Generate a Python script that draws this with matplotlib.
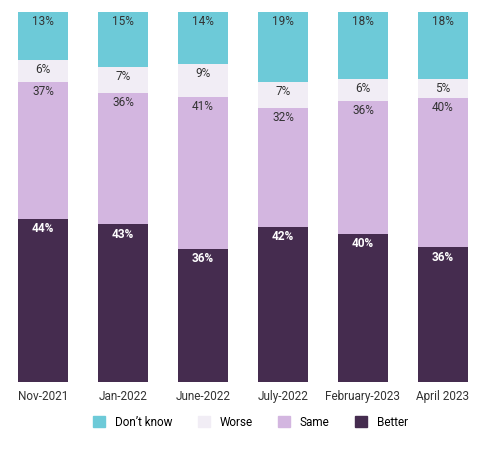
import matplotlib
matplotlib.use("Agg")
import matplotlib.pyplot as plt
from matplotlib.patches import Patch

plt.rcParams['font.family'] = ['Roboto', 'DejaVu Sans']

categories = ["Nov-2021", "Jan-2022", "June-2022", "July-2022", "February-2023", "April 2023"]
better = [44, 43, 36, 42, 40, 36]
same = [37, 36, 41, 32, 36, 40]
worse = [6, 7, 9, 7, 6, 5]
dont_know = [13, 15, 14, 19, 18, 18]

series = [("Better", better, "#452c4f", "white"),
          ("Same", same, "#d3b6e0", "#333333"),
          ("Worse", worse, "#f1edf5", "#333333"),
          ("Don\u2019t know", dont_know, "#6dcad8", "#333333")]

totals = [sum(s[1][i] for s in series) for i in range(len(categories))]

fig = plt.figure(figsize=(5.01, 4.49), dpi=100)
ax = fig.add_axes([3/501, 1-382/449, 480/501, 370/449])
x = range(len(categories))
bottom = [0]*len(categories)
handles = {}
for name, vals, col, tcol in series:
    scaled = [v * 100 / t for v, t in zip(vals, totals)]
    ax.bar(x, scaled, bottom=bottom, width=0.625, color=col)
    for i, v in enumerate(vals):
        top = bottom[i] + scaled[i]
        ax.text(i, top - 2.6, f"{v}%", ha="center", va="center", color=tcol, fontsize=8.5,
                fontweight="bold" if tcol == "white" else "normal")
    bottom = [b + v for b, v in zip(bottom, scaled)]
    handles[name] = Patch(color=col)
ax.set_xlim(-0.5, 5.5)
ax.set_ylim(0, 100)
ax.set_xticks(list(x))
ax.set_xticklabels(categories, fontsize=8.5, color="#333333")
ax.tick_params(axis="x", length=0, pad=6)
ax.set_yticks([])
for s in ax.spines.values():
    s.set_visible(False)
order = ["Don\u2019t know", "Worse", "Same", "Better"]
fig.legend([handles[o] for o in order], order, loc="center", bbox_to_anchor=(0.5, 1-422/449),
           ncol=4, frameon=False, fontsize=8.5, handlelength=1.0, handleheight=1.0,
           columnspacing=2.2, handletextpad=0.8)
fig.savefig("out.png", dpi=100)
